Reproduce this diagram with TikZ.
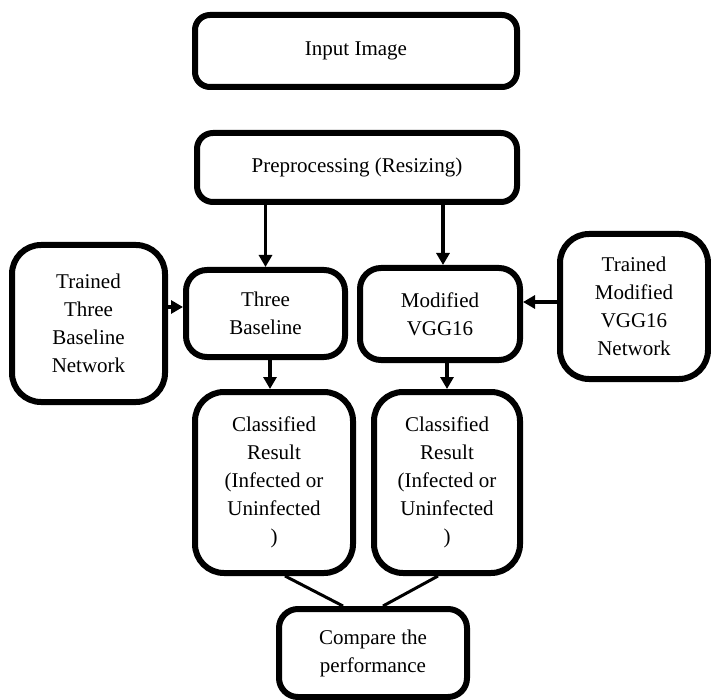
\documentclass[tikz,border=0pt]{standalone}
\usepackage{fontspec}
\setmainfont{Liberation Serif}
\usetikzlibrary{arrows.meta,calc}
\begin{document}
\begin{tikzpicture}[x=1pt,y=-1pt,
  box/.style={draw=black, line width=6pt, rounded corners=#1, align=center, inner sep=0pt,
    font=\fontsize{21}{28}\selectfont},
  box/.default=15pt,
  arr/.style={line width=3.5pt, -{Triangle[width=13pt,length=12pt]}},
  ln/.style={line width=3pt}]
\path[use as bounding box] (0,0) rectangle (711,700);
\node[box, minimum width=322pt, minimum height=72pt] (input) at (356,51) {Input Image};
\node[box=16pt, minimum width=320pt, minimum height=69pt] (prep) at (357,167.5) {Preprocessing (Resizing)};
\node[box=21pt, minimum width=159pt, minimum height=87pt] (tb) at (265.5,313.5) {Three\\Baseline};
\node[box=21pt, minimum width=160pt, minimum height=92pt] (vgg) at (440,314) {Modified\\VGG16};
\node[box=29pt, minimum width=153pt, minimum height=157pt] (tl) at (88.5,323.5) {Trained\\Three\\Baseline\\Network};
\node[box=29pt, minimum width=148pt, minimum height=145pt] (tr) at (634,306.5) {Trained\\Modified\\VGG16\\Network};
\node[box=29pt, minimum width=158pt, minimum height=181pt] (cl) at (274,482.5) {Classified\\Result\\(Infected or\\Uninfected\\)};
\node[box=29pt, minimum width=146pt, minimum height=181pt] (cr) at (447,482.5) {Classified\\Result\\(Infected or\\Uninfected\\)};
\node[box=19pt, minimum width=188pt, minimum height=88pt] (cmp) at (373,653) {Compare the\\performance};
\coordinate (la) at (0,307);
\coordinate (ra) at (0,302);
\draw[arr] (tb.north |- prep.south) -- (tb.north);
\draw[arr] ([xshift=3pt]vgg.north |- prep.south) -- ([xshift=3pt]vgg.north);
\draw[arr] (tl.east |- la) -- (tb.west |- la);
\draw[arr] (tr.west |- ra) -- (vgg.east |- ra);
\draw[arr] ([xshift=-4pt]cl.north |- tb.south) -- ([xshift=-4pt]cl.north);
\draw[arr] (cr.north |- vgg.south) -- (cr.north);
\draw[ln] ($(cl.south)+(11,0)$) -- ($(cmp.north)+(-30,0)$);
\draw[ln] ($(cr.south)+(-9,0)$) -- ($(cmp.north)+(10,0)$);
\end{tikzpicture}
\end{document}
